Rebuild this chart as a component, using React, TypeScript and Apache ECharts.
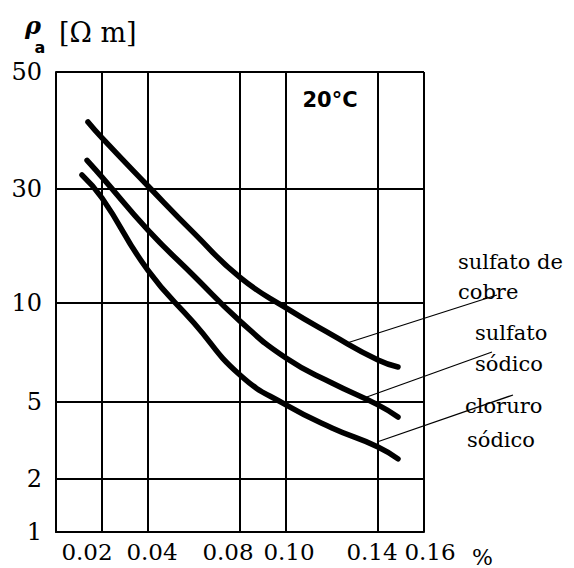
import React, { useEffect, useRef } from "react";
import * as echarts from "echarts";

// Tick values of the printed resistivity scale (Ω·m)
const yTickValues = [1, 2, 5, 10, 30, 50];
const yTickLabels = ["1", "2", "5", "10", "30", "50"];
// The printed scale is non-uniform: relative positions of its ticks (bottom = 0)
const yTickScale = [0, 53, 130, 229, 343, 460];

// Concentration ticks (%)
const xTickValues = [0.02, 0.04, 0.08, 0.1, 0.14, 0.16];

// sulfato de cobre
const cobreX = [0.0139, 0.02, 0.04, 0.06, 0.08, 0.1, 0.12, 0.14, 0.1487];
const cobreY = [40.2, 37.5, 30.4, 19.6, 12.8, 9.66, 8.0, 6.71, 6.39];
// sulfato sódico
const sodicoX = [0.0135, 0.02, 0.04, 0.06, 0.08, 0.1, 0.12, 0.14, 0.1487];
const sodicoY = [34.0, 31.6, 20.2, 12.97, 8.81, 6.8, 5.71, 4.83, 4.18];
// cloruro sódico
const cloruroX = [0.0113, 0.02, 0.04, 0.06, 0.08, 0.1, 0.12, 0.14, 0.1487];
const cloruroY = [31.9, 27.5, 13.7, 8.69, 6.04, 4.83, 3.67, 2.93, 2.54];

function toScale(v: number): number {
  const lv = Math.log10(v);
  for (let i = 0; i < yTickValues.length - 1; i++) {
    const a = yTickValues[i];
    const b = yTickValues[i + 1];
    if (v <= b || i === yTickValues.length - 2) {
      const t = (lv - Math.log10(a)) / (Math.log10(b) - Math.log10(a));
      return yTickScale[i] + t * (yTickScale[i + 1] - yTickScale[i]);
    }
  }
  return 0;
}

function labelForScale(val: number): string {
  let best = 0;
  let bd = Infinity;
  yTickValues.forEach((v, i) => {
    const d = Math.abs(toScale(v) - val);
    if (d < bd) {
      bd = d;
      best = i;
    }
  });
  return yTickLabels[best];
}

const SERIF = "DejaVu Serif";

// per-label nudges of the printed x labels (style only)
const xLabelStyleKey: Record<string, string> = {
  "0.02": "a",
  "0.04": "b",
  "0.08": "c",
  "0.10": "d",
  "0.14": "e",
  "0.16": "f",
};

export default function App() {
  const ref = useRef<HTMLDivElement>(null);
  useEffect(() => {
    if (!ref.current) return;
    const chart = echarts.init(ref.current, undefined, { renderer: "svg" });
    const curveStyle = {
      color: "#000",
      width: 5.5,
      cap: "round" as const,
      join: "round" as const,
    };
    const mk = (xs: number[], ys: number[]) => xs.map((x, i) => [x, toScale(ys[i])]);
    const xl = { fontFamily: SERIF, fontSize: 23, color: "#000" };
    const curve = (name: string, xs: number[], ys: number[], extra: any = {}) => ({
      name,
      type: "line",
      data: mk(xs, ys),
      smooth: 0.5,
      symbol: "none",
      lineStyle: curveStyle,
      z: 5,
      ...extra,
    });
    const option: any = {
      animation: false,
      backgroundColor: "#fff",
      grid: { left: 56, right: 150, top: 72, bottom: 36 },
      xAxis: {
        type: "value",
        min: 0,
        max: 0.16,
        axisLine: { show: true, lineStyle: { color: "#000", width: 2 } },
        axisTick: { show: false },
        splitLine: { show: false },
        axisLabel: {
          customValues: xTickValues,
          interval: 0,
          formatter: (v: number) => {
            const s = v.toFixed(2);
            return `{${xLabelStyleKey[s] || "a"}|${s}}`;
          },
          rich: {
            a: { ...xl, padding: [0, 30, 0, 0] },
            b: { ...xl, padding: [0, 0, 0, 8] },
            c: { ...xl, padding: [0, 24, 0, 0] },
            d: { ...xl, padding: [0, 0, 0, 6] },
            e: { ...xl, padding: [0, 12, 0, 0] },
            f: { ...xl, padding: [0, 0, 0, 12] },
          },
          color: "#000",
          fontFamily: SERIF,
          fontSize: 23,
          margin: 8,
          hideOverlap: false,
          showMinLabel: true,
          showMaxLabel: true,
        },
      },
      yAxis: {
        type: "value",
        min: 0,
        max: yTickScale[yTickScale.length - 1],
        axisLine: { show: true, lineStyle: { color: "#000", width: 2 } },
        axisTick: { show: false },
        splitLine: { show: false },
        axisLabel: {
          customValues: yTickValues.map(toScale),
          interval: 0,
          formatter: (v: number) => labelForScale(v),
          color: "#000",
          fontFamily: SERIF,
          fontSize: 24,
          margin: 14,
          hideOverlap: false,
          showMinLabel: true,
          showMaxLabel: true,
        },
      },
      series: [
        curve("sulfato de cobre", cobreX, cobreY, {
          markLine: {
            silent: true,
            symbol: ["none", "none"],
            label: { show: false },
            lineStyle: { color: "#000", width: 2, type: "solid" },
            data: [
              ...xTickValues.map((v) => ({ xAxis: v })),
              ...yTickValues.slice(1).map((v) => ({ yAxis: toScale(v) })),
            ],
          },
        }),
        curve("sulfato sódico", sodicoX, sodicoY),
        curve("cloruro sódico", cloruroX, cloruroY),
      ],
      graphic: [
        // axis title  ρa [Ω m]
        {
          type: "text",
          x: 33,
          y: 25,
          style: {
            text: "ρ",
            font: `italic bold 24px ${SERIF}`,
            lineHeight: 20,
            fill: "#000",
            align: "center",
            verticalAlign: "middle",
          },
        },
        {
          type: "text",
          x: 40,
          y: 47,
          style: {
            text: "a",
            font: `bold 16px "DejaVu Sans"`,
            lineHeight: 14,
            fill: "#000",
            align: "center",
            verticalAlign: "middle",
          },
        },
        {
          type: "text",
          x: 59,
          y: 32,
          style: {
            text: "[Ω m]",
            font: `27px ${SERIF}`,
            fill: "#000",
            align: "left",
            verticalAlign: "middle",
          },
        },
        {
          type: "text",
          x: 330,
          y: 100,
          style: {
            text: "20°C",
            font: `bold 21px "DejaVu Sans"`,
            fill: "#000",
            align: "center",
            verticalAlign: "middle",
          },
        },
        {
          type: "text",
          x: 472,
          y: 557,
          style: {
            text: "%",
            font: `22px ${SERIF}`,
            fill: "#000",
            align: "left",
            verticalAlign: "middle",
          },
        },
        // leader lines
        {
          type: "line",
          shape: { x1: 347, y1: 343, x2: 497, y2: 295 },
          style: { stroke: "#000", lineWidth: 1.3 },
        },
        {
          type: "line",
          shape: { x1: 364, y1: 398, x2: 492, y2: 352 },
          style: { stroke: "#000", lineWidth: 1.3 },
        },
        {
          type: "line",
          shape: { x1: 377, y1: 442, x2: 513, y2: 395 },
          style: { stroke: "#000", lineWidth: 1.3 },
        },
        // labels
        ...[
          { t: "sulfato de", x: 458, y: 262 },
          { t: "cobre", x: 458, y: 292 },
          { t: "sulfato", x: 475, y: 333 },
          { t: "sódico", x: 475, y: 364 },
          { t: "cloruro", x: 465, y: 406 },
          { t: "sódico", x: 467, y: 440 },
        ].map((d) => ({
          type: "text",
          x: d.x,
          y: d.y,
          style: {
            text: d.t,
            font: `21px ${SERIF}`,
            fill: "#000",
            align: "left",
            verticalAlign: "middle",
          },
        })),
      ],
    };
    chart.setOption(option);
    return () => chart.dispose();
  }, []);
  return (
    <div
      ref={ref}
      style={{ position: "fixed", left: 0, top: 0, width: 574, height: 568, background: "#fff" }}
    />
  );
}
